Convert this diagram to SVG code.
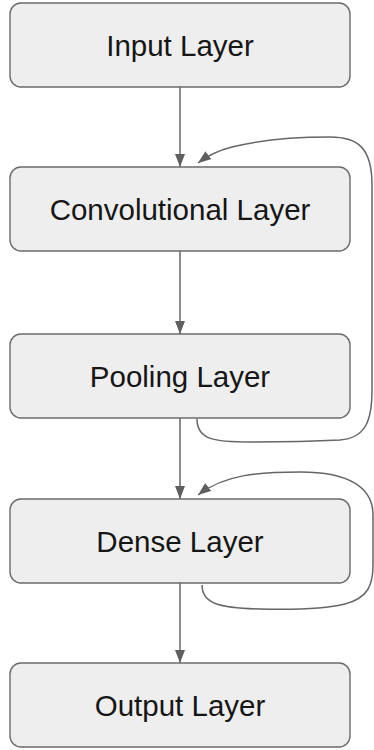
<svg xmlns="http://www.w3.org/2000/svg" width="374" height="750" viewBox="0 0 374 750">
  <style>
    .box { fill: #eeeeee; stroke: #6b6b6b; stroke-width: 1.4; }
    .label { font-family: "Liberation Sans", Arial, sans-serif; font-size: 29.5px; fill: #161616; text-anchor: middle; }
    .edge { fill: none; stroke: #666666; stroke-width: 1.5; }
  </style>
  <defs>
    <marker id="arrow" viewBox="0 0 13 10" refX="13" refY="5" markerWidth="13" markerHeight="10" markerUnits="userSpaceOnUse" orient="auto">
      <path d="M0,0 L13,5 L0,10 Z" fill="#5f5f5f"/>
    </marker>
  </defs>

  <!-- connectors -->
  <g id="connectors">
    <line class="edge" x1="180" y1="87" x2="180" y2="167" marker-end="url(#arrow)"/>
    <line class="edge" x1="180" y1="251" x2="180" y2="334" marker-end="url(#arrow)"/>
    <line class="edge" x1="180" y1="418" x2="180" y2="499" marker-end="url(#arrow)"/>
    <line class="edge" x1="180" y1="583" x2="180" y2="663" marker-end="url(#arrow)"/>
    <!-- Pooling Layer back to Convolutional Layer -->
    <path class="edge" d="M197,419 C197,440 215,442 250,442 C300,442 320,441 340,440 C366,438 372,420 372,390 L372,185 C372,148 358,137 330,137 C295,137 260,140 232,147 C220,150 210,154 198,163" marker-end="url(#arrow)"/>
    <!-- Dense Layer back to itself -->
    <path class="edge" d="M202,585 C202,604 220,608 260,609 C300,610 325,609 345,604 C368,598 373,585 373,565 L373,515 C373,488 350,472 300,472 C260,472 225,474 198,495" marker-end="url(#arrow)"/>
  </g>

  <g id="input-layer">
    <rect class="box" x="10" y="3" width="340" height="84" rx="11"/>
    <text class="label" x="180" y="56">Input Layer</text>
  </g>
  <g id="convolutional-layer">
    <rect class="box" x="10" y="167" width="340" height="84" rx="11"/>
    <text class="label" x="180" y="220">Convolutional Layer</text>
  </g>
  <g id="pooling-layer">
    <rect class="box" x="10" y="334" width="340" height="84" rx="11"/>
    <text class="label" x="180" y="387">Pooling Layer</text>
  </g>
  <g id="dense-layer">
    <rect class="box" x="10" y="499" width="340" height="84" rx="11"/>
    <text class="label" x="180" y="552">Dense Layer</text>
  </g>
  <g id="output-layer">
    <rect class="box" x="10" y="663" width="340" height="84" rx="11"/>
    <text class="label" x="180" y="716">Output Layer</text>
  </g>
</svg>
